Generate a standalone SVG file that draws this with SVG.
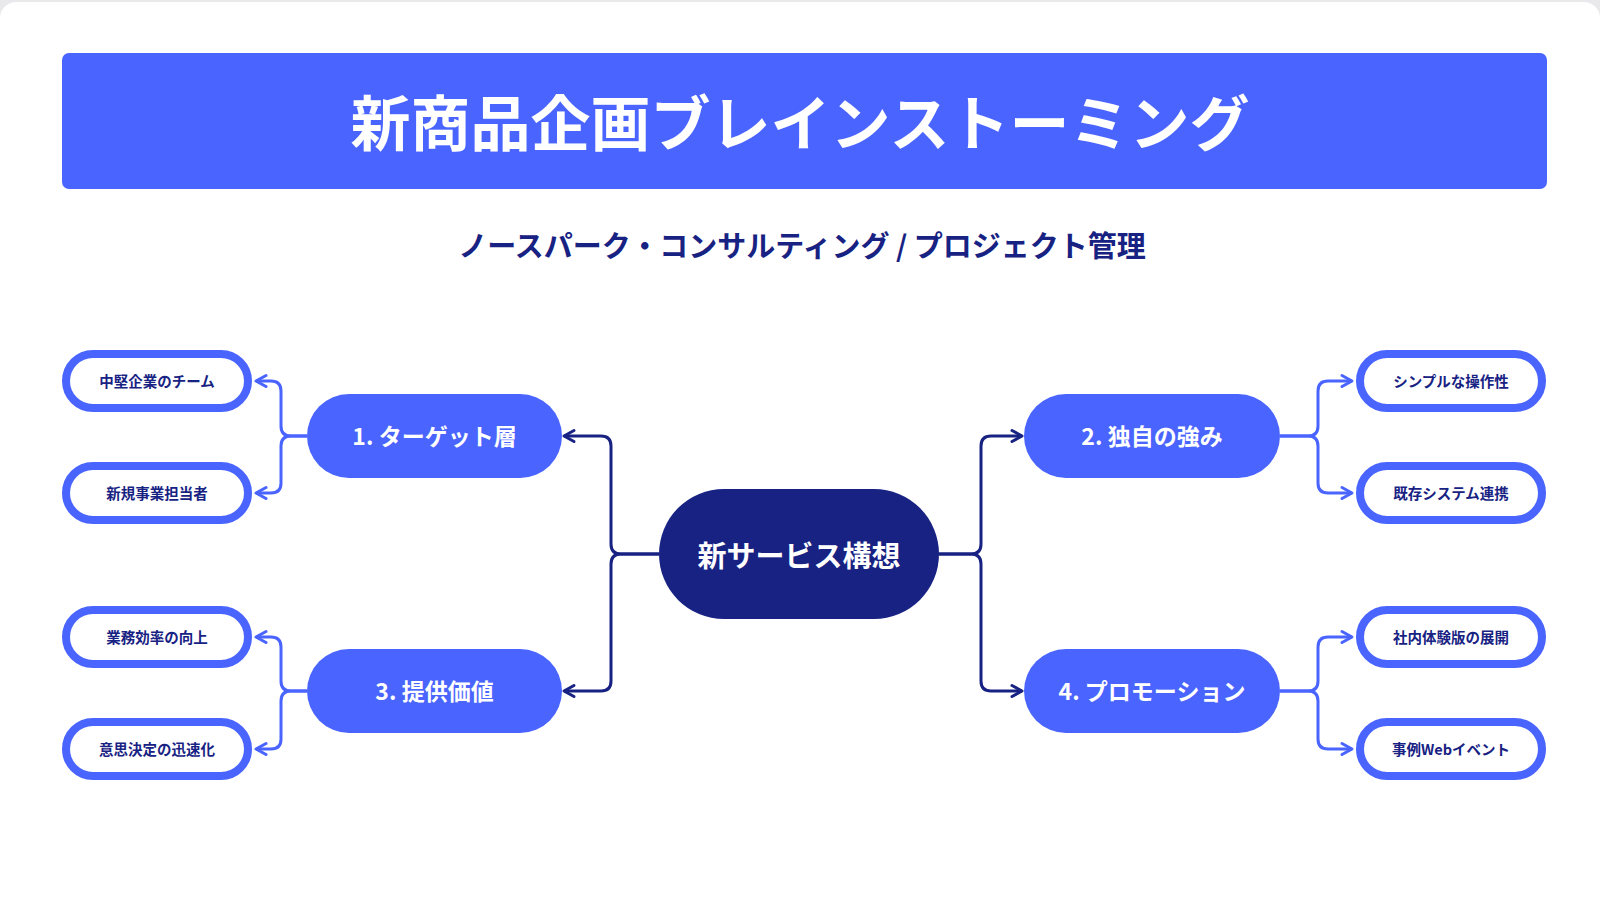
<svg xmlns="http://www.w3.org/2000/svg" width="1600" height="900" viewBox="0 0 1600 900">
  <defs>
    <style>
      text { font-family: "Noto Sans CJK JP", "Noto Sans", "Liberation Sans", sans-serif; font-weight: 700; text-anchor: middle; dominant-baseline: central; }
      .title { fill: #ffffff; font-size: 60px; }
      .sub { fill: #172283; font-size: 29px; }
      .center-t { fill: #ffffff; font-size: 29px; }
      .l1 { fill: #4A64FF; }
      .l1-t { fill: #ffffff; font-size: 23px; }
      .leaf { fill: #ffffff; stroke: #4A64FF; stroke-width: 8; }
      .leaf-t { fill: #172283; font-size: 14.5px; }
      .c-navy { fill: none; stroke: #172283; stroke-width: 3; }
      .c-blue { fill: none; stroke: #4A64FF; stroke-width: 3; }
    </style>
    <marker id="arrNavy" viewBox="-14 -10 18 20" markerWidth="18" markerHeight="20" refX="0" refY="0" orient="auto" markerUnits="userSpaceOnUse">
      <path d="M -10 -5.5 L 0 0 L -10 5.5" fill="none" stroke="#172283" stroke-width="3" stroke-linecap="round" stroke-linejoin="round"/>
    </marker>
    <marker id="arrBlue" viewBox="-14 -10 18 20" markerWidth="18" markerHeight="20" refX="0" refY="0" orient="auto" markerUnits="userSpaceOnUse">
      <path d="M -10 -5.5 L 0 0 L -10 5.5" fill="none" stroke="#4A64FF" stroke-width="3" stroke-linecap="round" stroke-linejoin="round"/>
    </marker>
  </defs>

  <rect x="0" y="0" width="1600" height="900" fill="#e9e9ec"/>
  <rect x="0" y="2" width="1600" height="920" rx="16" fill="#ffffff"/>

  <g id="header">
    <rect x="62" y="53" width="1485" height="136" rx="7" fill="#4A64FF"/>
    <text class="title" x="800" y="119.5">新商品企画ブレインストーミング</text>
  </g>
  <g id="subtitle">
    <text class="sub" x="802" y="244">ノースパーク・コンサルティング / プロジェクト管理</text>
  </g>

  <g id="connectors">
    <path class="c-navy" marker-end="url(#arrNavy)" d="M 659 554 H 621 Q 611 554 611 544 V 446 Q 611 436 601 436 H 564"/>
    <path class="c-navy" marker-end="url(#arrNavy)" d="M 659 554 H 621 Q 611 554 611 564 V 681 Q 611 691 601 691 H 564"/>
    <path class="c-navy" marker-end="url(#arrNavy)" d="M 939 554 H 971 Q 981 554 981 544 V 446 Q 981 436 991 436 H 1022"/>
    <path class="c-navy" marker-end="url(#arrNavy)" d="M 939 554 H 971 Q 981 554 981 564 V 681 Q 981 691 991 691 H 1022"/>

    <path class="c-blue" marker-end="url(#arrBlue)" d="M 307 436 H 291 Q 281 436 281 426 V 391 Q 281 381 271 381 H 256"/>
    <path class="c-blue" marker-end="url(#arrBlue)" d="M 307 436 H 291 Q 281 436 281 446 V 483 Q 281 493 271 493 H 256"/>
    <path class="c-blue" marker-end="url(#arrBlue)" d="M 307 691 H 291 Q 281 691 281 681 V 647 Q 281 637 271 637 H 256"/>
    <path class="c-blue" marker-end="url(#arrBlue)" d="M 307 691 H 291 Q 281 691 281 701 V 739 Q 281 749 271 749 H 256"/>

    <path class="c-blue" marker-end="url(#arrBlue)" d="M 1280 436 H 1308 Q 1318 436 1318 426 V 391 Q 1318 381 1328 381 H 1352"/>
    <path class="c-blue" marker-end="url(#arrBlue)" d="M 1280 436 H 1308 Q 1318 436 1318 446 V 483 Q 1318 493 1328 493 H 1352"/>
    <path class="c-blue" marker-end="url(#arrBlue)" d="M 1280 691 H 1308 Q 1318 691 1318 681 V 647 Q 1318 637 1328 637 H 1352"/>
    <path class="c-blue" marker-end="url(#arrBlue)" d="M 1280 691 H 1308 Q 1318 691 1318 701 V 739 Q 1318 749 1328 749 H 1352"/>
  </g>

  <g id="node-center">
    <rect x="659" y="489" width="280" height="130" rx="65" fill="#172283"/>
    <text class="center-t" x="799" y="553.5">新サービス構想</text>
  </g>

  <g id="node-target">
    <rect class="l1" x="307" y="394" width="255" height="84" rx="42"/>
    <text class="l1-t" x="434.5" y="434.5">1. ターゲット層</text>
  </g>
  <g id="node-strength">
    <rect class="l1" x="1024" y="394" width="256" height="84" rx="42"/>
    <text class="l1-t" x="1152" y="434.5">2. 独自の強み</text>
  </g>
  <g id="node-value">
    <rect class="l1" x="307" y="649" width="255" height="84" rx="42"/>
    <text class="l1-t" x="434.5" y="689.5">3. 提供価値</text>
  </g>
  <g id="node-promo">
    <rect class="l1" x="1024" y="649" width="256" height="84" rx="42"/>
    <text class="l1-t" x="1152" y="689.5">4. プロモーション</text>
  </g>

  <g id="leaf-1a">
    <rect class="leaf" x="66" y="354" width="182" height="54" rx="27"/>
    <text class="leaf-t" x="157" y="380">中堅企業のチーム</text>
  </g>
  <g id="leaf-1b">
    <rect class="leaf" x="66" y="466" width="182" height="54" rx="27"/>
    <text class="leaf-t" x="157" y="492">新規事業担当者</text>
  </g>
  <g id="leaf-3a">
    <rect class="leaf" x="66" y="610" width="182" height="54" rx="27"/>
    <text class="leaf-t" x="157" y="636">業務効率の向上</text>
  </g>
  <g id="leaf-3b">
    <rect class="leaf" x="66" y="722" width="182" height="54" rx="27"/>
    <text class="leaf-t" x="157" y="748">意思決定の迅速化</text>
  </g>
  <g id="leaf-2a">
    <rect class="leaf" x="1360" y="354" width="182" height="54" rx="27"/>
    <text class="leaf-t" x="1451" y="380">シンプルな操作性</text>
  </g>
  <g id="leaf-2b">
    <rect class="leaf" x="1360" y="466" width="182" height="54" rx="27"/>
    <text class="leaf-t" x="1451" y="492">既存システム連携</text>
  </g>
  <g id="leaf-4a">
    <rect class="leaf" x="1360" y="610" width="182" height="54" rx="27"/>
    <text class="leaf-t" x="1451" y="636">社内体験版の展開</text>
  </g>
  <g id="leaf-4b">
    <rect class="leaf" x="1360" y="722" width="182" height="54" rx="27"/>
    <text class="leaf-t" x="1451" y="748">事例Webイベント</text>
  </g>
</svg>
